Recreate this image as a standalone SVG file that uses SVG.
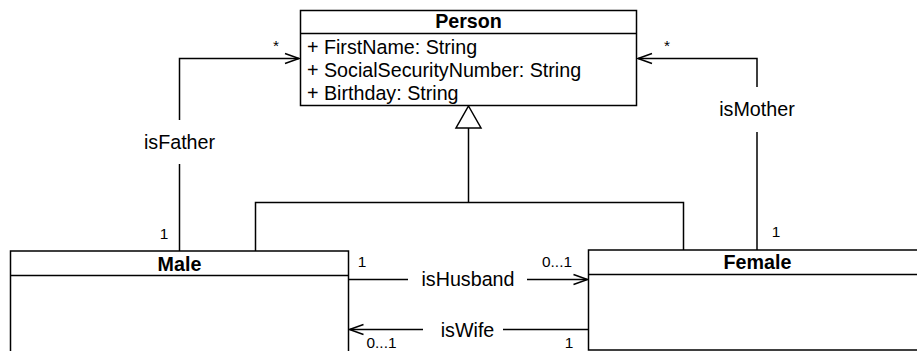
<svg xmlns="http://www.w3.org/2000/svg" width="917" height="351" viewBox="0 0 917 351">
  <style>
    .box { fill: #ffffff; stroke: #000000; stroke-width: 1.5; }
    .sep { stroke: #000000; stroke-width: 1.5; }
    .title { font-family: "Liberation Sans", Arial, Helvetica, sans-serif; font-size: 19.7px; font-weight: bold; fill: #000000; text-anchor: middle; }
    .attr { font-family: "Liberation Sans", Arial, Helvetica, sans-serif; font-size: 19.7px; fill: #000000; }
    .lbl { font-family: "Liberation Sans", Arial, Helvetica, sans-serif; font-size: 19.7px; fill: #000000; text-anchor: middle; }
    .mult { font-family: "Liberation Sans", Arial, Helvetica, sans-serif; font-size: 15.4px; fill: #000000; text-anchor: middle; }
    .edge { fill: none; stroke: #000000; stroke-width: 1.5; }
  </style>
  <defs>
    <marker id="open-arrow" markerUnits="userSpaceOnUse" markerWidth="20" markerHeight="14" viewBox="-15 -7 17 14" refX="0" refY="0" orient="auto">
      <path d="M-14,-5 L0,0 L-14,5" fill="none" stroke="#000000" stroke-width="1.5"/>
    </marker>
  </defs>

  <rect width="917" height="351" fill="#ffffff"/>

  <!-- connectors -->
  <g id="connectors">
    <!-- isFather: Male -> Person -->
    <path class="edge" d="M179.5,251 V164"/>
    <path class="edge" d="M179.5,120 V58.5 H299" marker-end="url(#open-arrow)"/>
    <text class="lbl" x="179.5" y="149">isFather</text>
    <text class="mult" x="276" y="51">*</text>
    <text class="mult" x="164" y="239">1</text>

    <!-- isMother: Female -> Person -->
    <path class="edge" d="M757,250 V132"/>
    <path class="edge" d="M757,87 V58.5 H638" marker-end="url(#open-arrow)"/>
    <text class="lbl" x="757" y="116">isMother</text>
    <text class="mult" x="667" y="51">*</text>
    <text class="mult" x="776" y="237">1</text>

    <!-- generalization: Male, Female -> Person -->
    <path class="edge" d="M255.5,251 V202.5 H683.5 V250"/>
    <path class="edge" d="M468.5,128 V202.5"/>
    <path d="M468.5,106 L481,128 L456,128 Z" fill="#ffffff" stroke="#000000" stroke-width="1.5"/>

    <!-- isHusband: Male -> Female -->
    <path class="edge" d="M348.5,279.5 H408"/>
    <path class="edge" d="M527,279.5 H587.5" marker-end="url(#open-arrow)"/>
    <text class="lbl" x="468" y="285.5">isHusband</text>
    <text class="mult" x="362" y="267">1</text>
    <text class="mult" x="557" y="267">0...1</text>

    <!-- isWife: Female -> Male -->
    <path class="edge" d="M588.5,329.5 H503"/>
    <path class="edge" d="M423,329.5 H349.5" marker-end="url(#open-arrow)"/>
    <text class="lbl" x="467.5" y="336.5">isWife</text>
    <text class="mult" x="381.5" y="348">0...1</text>
    <text class="mult" x="569" y="348">1</text>
  </g>

  <!-- Person class -->
  <g id="person">
    <rect class="box" x="300.5" y="10.5" width="336" height="95"/>
    <line class="sep" x1="300.5" y1="33.5" x2="636.5" y2="33.5"/>
    <text class="title" x="468.5" y="27.5">Person</text>
    <text class="attr" x="307" y="53.5">+ FirstName: String</text>
    <text class="attr" x="307" y="76.5">+ SocialSecurityNumber: String</text>
    <text class="attr" x="307" y="99.5">+ Birthday: String</text>
  </g>

  <!-- Male class -->
  <g id="male">
    <rect class="box" x="10.5" y="251" width="338" height="130"/>
    <line class="sep" x1="10.5" y1="275.5" x2="348.5" y2="275.5"/>
    <text class="title" x="179.5" y="270.5">Male</text>
  </g>

  <!-- Female class -->
  <g id="female">
    <rect class="box" x="588.5" y="250" width="338" height="100"/>
    <line class="sep" x1="588.5" y1="274.5" x2="926.5" y2="274.5"/>
    <text class="title" x="757.5" y="268.5">Female</text>
  </g>
</svg>
